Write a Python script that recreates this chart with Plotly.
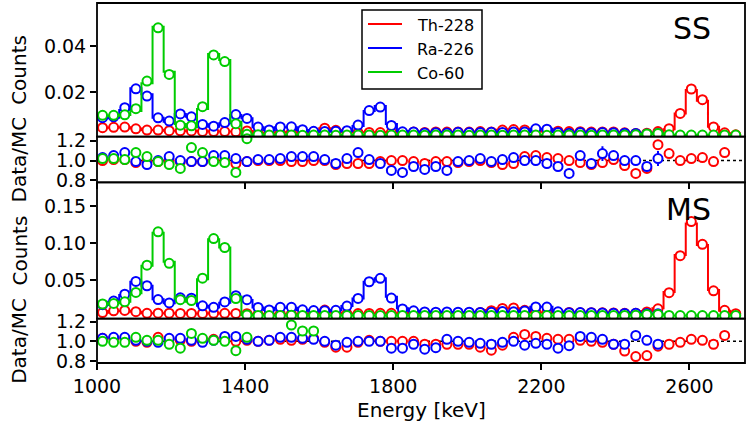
import plotly.graph_objects as go

# ---------------- data ----------------
energy_keV = [1015, 1045, 1075, 1105, 1135, 1165, 1195, 1225, 1255, 1285,
              1315, 1345, 1375, 1405, 1435, 1465, 1495, 1525, 1555, 1585,
              1615, 1645, 1675, 1705, 1735, 1765, 1795, 1825, 1855, 1885,
              1915, 1945, 1975, 2005, 2035, 2065, 2095, 2125, 2155, 2185,
              2215, 2245, 2275, 2305, 2335, 2365, 2395, 2425, 2455, 2485,
              2515, 2545, 2575, 2605, 2635, 2665, 2695, 2725]

sources = ["Th-228", "Ra-226", "Co-60"]
colors = ["#ff0000", "#0000ff", "#00cc00"]

# SS: MC counts
ss_mc_th = [0.0047, 0.0048, 0.0049, 0.0043, 0.0037, 0.0037, 0.0034, 0.0034, 0.0033, 0.0031,
            0.0030, 0.0030, 0.0030, 0.0033, 0.0024, 0.0025, 0.0026, 0.0027, 0.0026, 0.0028,
            0.0045, 0.0037, 0.0027, 0.0026, 0.0027, 0.0026, 0.0027, 0.0026, 0.0028, 0.0027,
            0.0029, 0.0028, 0.0029, 0.0028, 0.0030, 0.0029, 0.0038, 0.0040, 0.0036, 0.0035,
            0.0030, 0.0031, 0.0030, 0.0030, 0.0029, 0.0029, 0.0028, 0.0026, 0.0025, 0.0025,
            0.0026, 0.0040, 0.0109, 0.0211, 0.0164, 0.0051, 0.0023, 0.0016]
ss_mc_ra = [0.0088, 0.0090, 0.0124, 0.0218, 0.0192, 0.0090, 0.0073, 0.0107, 0.0095, 0.0062,
            0.0051, 0.0066, 0.0102, 0.0088, 0.0049, 0.0037, 0.0049, 0.0049, 0.0037, 0.0030,
            0.0030, 0.0033, 0.0033, 0.0054, 0.0120, 0.0141, 0.0063, 0.0033, 0.0030, 0.0026,
            0.0027, 0.0026, 0.0027, 0.0026, 0.0026, 0.0027, 0.0026, 0.0027, 0.0028, 0.0042,
            0.0042, 0.0028, 0.0026, 0.0025, 0.0025, 0.0024, 0.0024, 0.0023, 0.0022, 0.0021,
            0.0021]
ss_mc_co = [0.0099, 0.0099, 0.0102, 0.0120, 0.0240, 0.0486, 0.0290, 0.0063, 0.0049, 0.0128,
            0.0367, 0.0341, 0.0073, 0.0015, 0.0016, 0.0015, 0.0015, 0.0015, 0.0014, 0.0015,
            0.0015, 0.0014, 0.0015, 0.0015, 0.0015, 0.0014, 0.0015, 0.0015, 0.0015, 0.0014,
            0.0015, 0.0015, 0.0015, 0.0014, 0.0015, 0.0015, 0.0014, 0.0015, 0.0015, 0.0015,
            0.0014, 0.0015, 0.0015, 0.0015, 0.0014, 0.0015, 0.0015, 0.0015, 0.0016, 0.0020,
            0.0022, 0.0016, 0.0015, 0.0015, 0.0015, 0.0015, 0.0015, 0.0015]

# SS: Data/MC
ss_ratio_th = [1.00, 1.01, 1.01, 0.98, 0.99, 0.99, 1.00, 0.99, 0.99, 0.99,
               1.00, 1.00, 0.97, 0.99, 1.00, 1.00, 1.00, 0.99, 0.99, 1.00,
               1.00, 0.96, 0.97, 0.97, 0.97, 0.99, 1.00, 1.00, 0.99, 0.97,
               0.99, 0.99, 0.98, 0.99, 1.00, 0.98, 0.96, 0.97, 1.04, 1.05,
               1.03, 1.02, 1.00, 0.98, 0.96, 0.98, 1.01, 0.95, 0.87, 0.92,
               1.16, 1.07, 1.00, 1.02, 1.03, 0.99, 1.08]
ss_ratio_ra = [1.03, 1.05, 1.08, 0.99, 0.96, 1.00, 1.04, 1.00, 0.99, 0.99,
               1.05, 1.05, 1.02, 0.99, 1.01, 1.01, 1.02, 1.04, 1.04, 1.04,
               1.01, 0.97, 1.02, 1.08, 1.01, 0.97, 0.90, 0.88, 0.94, 0.91,
               0.94, 0.90, 0.99, 1.00, 1.02, 0.99, 1.01, 1.03, 1.00, 1.00,
               0.97, 0.94, 0.87, 1.05, 0.97, 1.07, 1.05, 1.00, 1.00, 0.94,
               1.02]
ss_ratio_co = [1.02, 1.02, 1.01, 1.08, 1.04, 0.99, 0.96, 0.92, 1.13, 1.08,
               0.99, 0.98, 0.88, 1.22]
ss_err_ra = [0.02, 0.02, 0.02, 0.02, 0.02, 0.02, 0.02, 0.02, 0.02, 0.02,
             0.02, 0.02, 0.02, 0.02, 0.02, 0.02, 0.02, 0.02, 0.02, 0.02,
             0.02, 0.02, 0.02, 0.02, 0.02, 0.02, 0.02, 0.02, 0.02, 0.02,
             0.02, 0.02, 0.02, 0.02, 0.02, 0.02, 0.02, 0.02, 0.02, 0.02,
             0.03, 0.03, 0.03, 0.03, 0.03, 0.075, 0.04, 0.04, 0.04, 0.04,
             0.075]

# MS: MC counts
ms_mc_th = [0.0059, 0.0081, 0.0086, 0.0072, 0.0050, 0.0050, 0.0050, 0.0048, 0.0048, 0.0048,
            0.0050, 0.0048, 0.0048, 0.0045, 0.0040, 0.0040, 0.0040, 0.0041, 0.0042, 0.0045,
            0.0095, 0.0060, 0.0046, 0.0047, 0.0048, 0.0050, 0.0050, 0.0052, 0.0055, 0.0055,
            0.0056, 0.0057, 0.0057, 0.0060, 0.0065, 0.0095, 0.0120, 0.0118, 0.0085, 0.0062,
            0.0060, 0.0060, 0.0060, 0.0058, 0.0058, 0.0057, 0.0056, 0.0056, 0.0060, 0.0080,
            0.0117, 0.0340, 0.0838, 0.1266, 0.0973, 0.0365, 0.0086, 0.0045]
ms_mc_ra = [0.0162, 0.0207, 0.0297, 0.0477, 0.0423, 0.0239, 0.0185, 0.0252, 0.0252, 0.0153,
            0.0130, 0.0194, 0.0275, 0.0230, 0.0130, 0.0095, 0.0126, 0.0126, 0.0095, 0.0086,
            0.0086, 0.0095, 0.0149, 0.0252, 0.0477, 0.0523, 0.0275, 0.0117, 0.0086, 0.0075,
            0.0070, 0.0068, 0.0066, 0.0066, 0.0064, 0.0065, 0.0075, 0.0070, 0.0085, 0.0139,
            0.0139, 0.0075, 0.0062, 0.0058, 0.0056, 0.0054, 0.0052, 0.0050, 0.0048, 0.0046,
            0.0044]
ms_mc_co = [0.0176, 0.0185, 0.0207, 0.0320, 0.0694, 0.1140, 0.0748, 0.0252, 0.0207, 0.0510,
            0.1050, 0.0940, 0.0275, 0.0027, 0.0021, 0.0020, 0.0020, 0.0020, 0.0019, 0.0020,
            0.0020, 0.0019, 0.0020, 0.0020, 0.0020, 0.0019, 0.0020, 0.0020, 0.0020, 0.0019,
            0.0020, 0.0020, 0.0020, 0.0019, 0.0020, 0.0020, 0.0019, 0.0020, 0.0020, 0.0020,
            0.0019, 0.0020, 0.0020, 0.0020, 0.0019, 0.0020, 0.0020, 0.0021, 0.0025, 0.0035,
            0.0035, 0.0022, 0.0020, 0.0020, 0.0020, 0.0020, 0.0020, 0.0020]

# MS: Data/MC
ms_ratio_th = [1.03, 1.03, 1.03, 1.00, 0.99, 1.04, 1.02, 1.01, 1.00, 1.01,
               1.02, 1.03, 1.00, 1.01, 1.00, 1.01, 1.02, 1.01, 1.02, 1.03,
               0.99, 0.94, 0.94, 0.99, 1.01, 1.00, 1.00, 1.00, 1.00, 0.97,
               0.97, 0.97, 0.97, 0.97, 0.94, 0.91, 0.96, 1.04, 1.07, 1.05,
               1.03, 1.02, 1.02, 1.01, 1.00, 0.99, 0.97, 0.90, 0.845, 0.855,
               0.95, 0.97, 0.99, 1.02, 1.01, 0.97, 1.06]
ms_ratio_ra = [1.03, 1.04, 1.04, 1.01, 1.00, 0.99, 1.03, 1.03, 1.01, 0.99,
               1.01, 1.05, 1.05, 1.02, 1.00, 1.01, 1.04, 1.04, 1.03, 1.02,
               1.00, 0.96, 0.99, 1.00, 1.00, 1.00, 0.93, 0.93, 0.97, 0.92,
               0.935, 1.02, 1.00, 0.99, 0.98, 0.97, 0.99, 1.00, 0.96, 0.98,
               0.97, 0.93, 0.955, 1.05, 1.04, 1.02, 0.97, 0.97, 1.06, 1.01,
               0.97]
ms_ratio_co = [1.00, 0.99, 0.99, 1.04, 1.01, 1.01, 0.97, 0.93, 1.08, 1.03,
               1.01, 1.00, 0.905, 1.04, None, None, None, 1.166, 1.105, 1.105]

y_ticks_ss = [0.02, 0.04]
y_ticks_ms = [0.05, 0.10, 0.15]
y_ticks_ratio = [0.8, 1.0, 1.2]
x_ticks = [1000, 1400, 1800, 2200, 2600]

# ---------------- layout geometry (pixels -> paper) ----------------
W, H = 750, 429
ML, MR, MT, MB = 97, 5, 3, 66
PW, PH = W - ML - MR, H - MT - MB


def px_x(px):
    return (px - ML) / PW


def px_y(py):
    return (H - MB - py) / PH


dom_ss = [0.6286, 1.0]
dom_ssr = [0.502, 0.6286]
dom_ms = [0.123, 0.502]
dom_msr = [0.0, 0.123]

FONT = "DejaVu Sans"
fig = go.Figure()


def add_panel(mcs, ratios, xa, ya_counts, ya_ratio, errs):
    for k in range(3):
        mc = mcs[k]
        rt = ratios[k]
        n = len(mc)
        xs = energy_keV[:n]
        fig.add_trace(go.Scatter(
            x=xs, y=mc, mode="lines", line=dict(color=colors[k], width=2, shape="hvh"),
            xaxis=xa[0], yaxis=ya_counts, showlegend=False, hoverinfo="skip"))
        data = []
        for i in range(n):
            r = rt[i] if i < len(rt) and rt[i] is not None else 1.0
            data.append(mc[i] * r)
        fig.add_trace(go.Scatter(
            x=xs, y=data, mode="markers",
            marker=dict(symbol="circle", size=9, color="white",
                        line=dict(color=colors[k], width=2)),
            xaxis=xa[0], yaxis=ya_counts, showlegend=False, cliponaxis=True))
    for k in range(3):
        rt = ratios[k]
        xs = energy_keV[:len(rt)]
        err = errs[k]
        fig.add_trace(go.Scatter(
            x=xs, y=rt, mode="markers",
            marker=dict(symbol="circle", size=9, color="white",
                        line=dict(color=colors[k], width=2)),
            error_y=(dict(type="data", array=err, color=colors[k], thickness=2, width=0)
                     if err is not None else None),
            xaxis=xa[1], yaxis=ya_ratio, showlegend=False, cliponaxis=False))


add_panel([ss_mc_th, ss_mc_ra, ss_mc_co], [ss_ratio_th, ss_ratio_ra, ss_ratio_co],
          ["x", "x2"], "y", "y2", [None, ss_err_ra, None])
add_panel([ms_mc_th, ms_mc_ra, ms_mc_co], [ms_ratio_th, ms_ratio_ra, ms_ratio_co],
          ["x3", "x4"], "y3", "y4", [None, None, None])

base_ax = dict(showline=False, showgrid=False, zeroline=False, automargin=False,
               tickcolor="black", ticklen=6, tickwidth=1.5)

fig.update_layout(
    width=W, height=H,
    margin=dict(l=ML, r=MR, t=MT, b=MB),
    paper_bgcolor="white", plot_bgcolor="rgba(0,0,0,0)",
    font=dict(family=FONT, size=19, color="black"),
    showlegend=False,
    xaxis=dict(domain=[0, 1], anchor="y", range=[1000, 2750], tickvals=x_ticks,
               ticks="", showticklabels=False, **base_ax),
    xaxis2=dict(domain=[0, 1], anchor="y2", range=[1000, 2750], tickvals=x_ticks,
                ticks="outside", showticklabels=False, **base_ax),
    xaxis3=dict(domain=[0, 1], anchor="y3", range=[1000, 2750], tickvals=x_ticks,
                ticks="", showticklabels=False, **base_ax),
    xaxis4=dict(domain=[0, 1], anchor="y4", range=[1000, 2750], tickvals=x_ticks,
                ticktext=[str(v) for v in x_ticks],
                ticks="outside", showticklabels=True, **base_ax),
    yaxis=dict(domain=dom_ss, anchor="x", range=[0.00078, 0.0589],
               tickvals=y_ticks_ss, ticktext=["%.2f" % v for v in y_ticks_ss],
               ticks="outside", **base_ax),
    yaxis2=dict(domain=dom_ssr, anchor="x2", range=[0.781, 1.24],
                tickvals=y_ticks_ratio, ticktext=["%.1f" % v for v in y_ticks_ratio],
                ticks="outside", **base_ax),
    yaxis3=dict(domain=dom_ms, anchor="x3", range=[-0.0023, 0.1822],
                tickvals=y_ticks_ms, ticktext=["%.2f" % v for v in y_ticks_ms],
                ticks="outside", **base_ax),
    yaxis4=dict(domain=dom_msr, anchor="x4", range=[0.779, 1.23],
                tickvals=y_ticks_ratio, ticktext=["%.1f" % v for v in y_ticks_ratio],
                ticks="outside", **base_ax),
)

# dotted unity lines in ratio panels
for xa, ya in (("x2", "y2"), ("x4", "y4")):
    fig.add_shape(type="line", xref=xa + " domain", x0=0, x1=1, yref=ya, y0=1.0, y1=1.0,
                  line=dict(color="black", width=1.5, dash="dot"), layer="below")

# panel frames
for dom in (dom_ss, dom_ssr, dom_ms, dom_msr):
    fig.add_shape(type="rect", xref="paper", x0=0, x1=1, yref="paper", y0=dom[0], y1=dom[1],
                  line=dict(color="black", width=1.8), fillcolor="rgba(0,0,0,0)", layer="above")

# legend (drawn by hand: line-only entries in a framed box)
fig.add_shape(type="rect", xref="paper", yref="paper",
              x0=px_x(362), x1=px_x(482), y0=px_y(89), y1=px_y(10),
              line=dict(color="black", width=1.5), fillcolor="white", layer="above")
ann = []
for k, py in enumerate((24, 48, 72)):
    fig.add_shape(type="line", xref="paper", yref="paper",
                  x0=px_x(368), x1=px_x(402), y0=px_y(py), y1=px_y(py),
                  line=dict(color=colors[k], width=2), layer="above")
    ann.append(dict(text=sources[k], xref="paper", yref="paper", x=px_x(415),
                    y=px_y(py + 1.5), xanchor="left", yanchor="middle",
                    showarrow=False, font=dict(size=16)))

ann.append(dict(text="SS", xref="paper", x=px_x(713), xanchor="right",
                yref="paper", y=px_y(29), yanchor="middle", showarrow=False,
                font=dict(size=30)))
ann.append(dict(text="MS", xref="paper", x=px_x(713), xanchor="right",
                yref="paper", y=px_y(209.5), yanchor="middle", showarrow=False,
                font=dict(size=30)))
for dom, txt in ((dom_ss, "Counts"), (dom_ssr, "Data/MC"), (dom_ms, "Counts"),
                 (dom_msr, "Data/MC")):
    ann.append(dict(text=txt, xref="paper", x=px_x(19), xanchor="center",
                    yref="paper", y=(dom[0] + dom[1]) / 2, yanchor="middle",
                    textangle=-90, showarrow=False, font=dict(size=20)))
ann.append(dict(text="Energy [keV]", xref="paper", x=0.5, xanchor="center",
                yref="paper", y=px_y(410), yanchor="middle",
                showarrow=False, font=dict(size=20)))
fig.update_layout(annotations=ann)

fig.write_html("out.html")
